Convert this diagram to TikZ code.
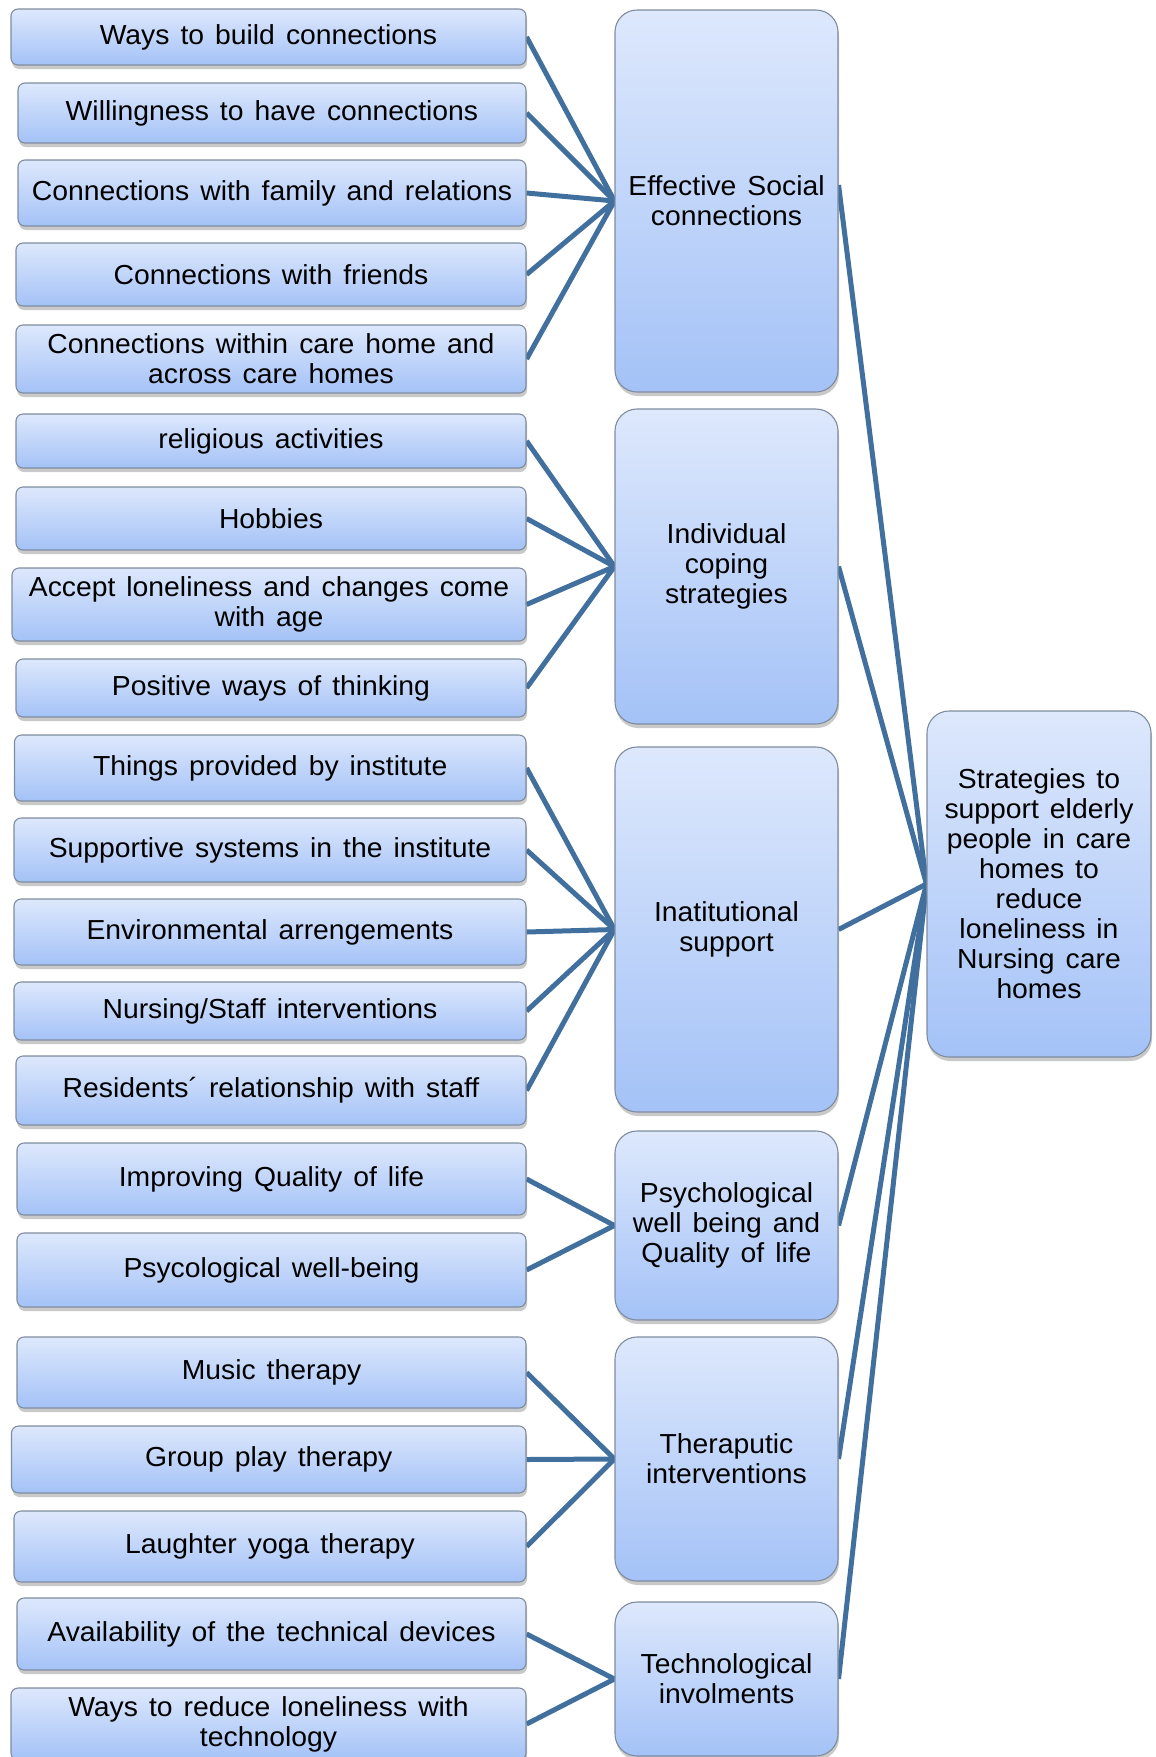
\documentclass[tikz,border=0pt]{standalone}
\usepackage{fontspec}
\setmainfont[FakeStretch=1.03,WordSpace=1.4]{Liberation Sans}
\usetikzlibrary{shadows,backgrounds}
\definecolor{linec}{HTML}{41709F}
\definecolor{topc}{HTML}{DDE8FC}
\definecolor{botc}{HTML}{A4C2F7}
\definecolor{bordc}{HTML}{7F8C9E}
\tikzset{
  box/.style={draw=bordc, line width=1.1pt, top color=topc, bottom color=botc,
    inner sep=0pt, align=center, font=\fontsize{27.5}{30}\selectfont,
    drop shadow={shadow xshift=1pt, shadow yshift=-4pt, opacity=0.3, fill=black!70}},
  lbox/.style={box, rounded corners=7pt},
  mbox/.style={box, rounded corners=22pt, minimum width=223pt},
  rbox/.style={box, rounded corners=22pt},
  conn/.style={draw=linec, line width=5pt},
}
\begin{document}
\begin{tikzpicture}[x=1pt,y=-1pt]
\useasboundingbox (0,0) rectangle (1156,1757);
\clip (0,0) rectangle (1156,1757);
% left boxes
\node[lbox, minimum width=515pt, minimum height=56pt] (l1) at (268.5,37) {Ways to build connections};
\node[lbox, minimum width=508pt, minimum height=60pt] (l2) at (272,113) {Willingness to have connections};
\node[lbox, minimum width=508pt, minimum height=66pt] (l3) at (272,193) {Connections with family and relations};
\node[lbox, minimum width=510pt, minimum height=63pt] (l4) at (271,274.5) {Connections with friends};
\node[lbox, minimum width=510pt, minimum height=68pt] (l5) at (271,359) {Connections within care home and\\across care homes};
\node[lbox, minimum width=510pt, minimum height=54pt] (l6) at (271,441) {religious activities};
\node[lbox, minimum width=510pt, minimum height=63pt] (l7) at (271,518.5) {Hobbies};
\node[lbox, minimum width=514pt, minimum height=73pt] (l8) at (269,604.5) {Accept loneliness and changes come\\with age};
\node[lbox, minimum width=510pt, minimum height=58pt] (l9) at (271,688) {Positive ways of thinking};
\node[lbox, minimum width=511.5pt, minimum height=66pt] (l10) at (270.25,768) {Things provided by institute};
\node[lbox, minimum width=512pt, minimum height=64pt] (l11) at (270,850) {Supportive systems in the institute};
\node[lbox, minimum width=512pt, minimum height=66pt] (l12) at (270,932) {Environmental arrengements};
\node[lbox, minimum width=512pt, minimum height=58pt] (l13) at (270,1011) {Nursing/Staff interventions};
\node[lbox, minimum width=510pt, minimum height=69pt] (l14) at (271,1090.5) {Residents´ relationship with staff};
\node[lbox, minimum width=509pt, minimum height=72pt] (l15) at (271.5,1179) {Improving Quality of life};
\node[lbox, minimum width=509pt, minimum height=74pt] (l16) at (271.5,1270) {Psycological well-being};
\node[lbox, minimum width=509pt, minimum height=71pt] (l17) at (271.5,1372.5) {Music therapy};
\node[lbox, minimum width=514.5pt, minimum height=67pt] (l18) at (268.75,1459.5) {Group play therapy};
\node[lbox, minimum width=512pt, minimum height=71pt] (l19) at (270,1546.5) {Laughter yoga therapy};
\node[lbox, minimum width=509pt, minimum height=72pt] (l20) at (271.5,1634) {Availability of the technical devices};
\node[lbox, minimum width=515pt, minimum height=72pt] (l21) at (268.5,1724) {Ways to reduce loneliness with\\technology};
% middle boxes
\node[mbox, minimum height=382pt] (m1) at (726.5,201) {Effective Social\\connections};
\node[mbox, minimum height=315pt] (m2) at (726.5,566.5) {Individual\\coping\\strategies};
\node[mbox, minimum height=365pt] (m3) at (726.5,929.5) {Inatitutional\\support};
\node[mbox, minimum height=189pt] (m4) at (726.5,1225.5) {Psychological\\well being and\\Quality of life};
\node[mbox, minimum height=244pt] (m5) at (726.5,1459) {Theraputic\\interventions};
\node[mbox, minimum height=154pt] (m6) at (726.5,1679) {Technological\\involments};
% right box
\node[rbox, minimum width=224pt, minimum height=346pt] (r) at (1039,884) {Strategies to\\support elderly\\people in care\\homes to\\reduce\\loneliness in\\Nursing care\\homes};
% connectors
\begin{scope}[on background layer]
\foreach \a in {l1,l2,l3,l4,l5} \draw[conn] (\a.east) -- (m1.west);
\foreach \a in {l6,l7,l8,l9} \draw[conn] (\a.east) -- (m2.west);
\foreach \a in {l10,l11,l12,l13,l14} \draw[conn] (\a.east) -- (m3.west);
\foreach \a in {l15,l16} \draw[conn] (\a.east) -- (m4.west);
\foreach \a in {l17,l18,l19} \draw[conn] (\a.east) -- (m5.west);
\foreach \a in {l20,l21} \draw[conn] (\a.east) -- (m6.west);
\draw[conn] ([yshift=16pt]m1.east) -- (r.west);
\foreach \a in {m2,m3,m4,m5,m6} \draw[conn] (\a.east) -- (r.west);
\end{scope}
\end{tikzpicture}
\end{document}
